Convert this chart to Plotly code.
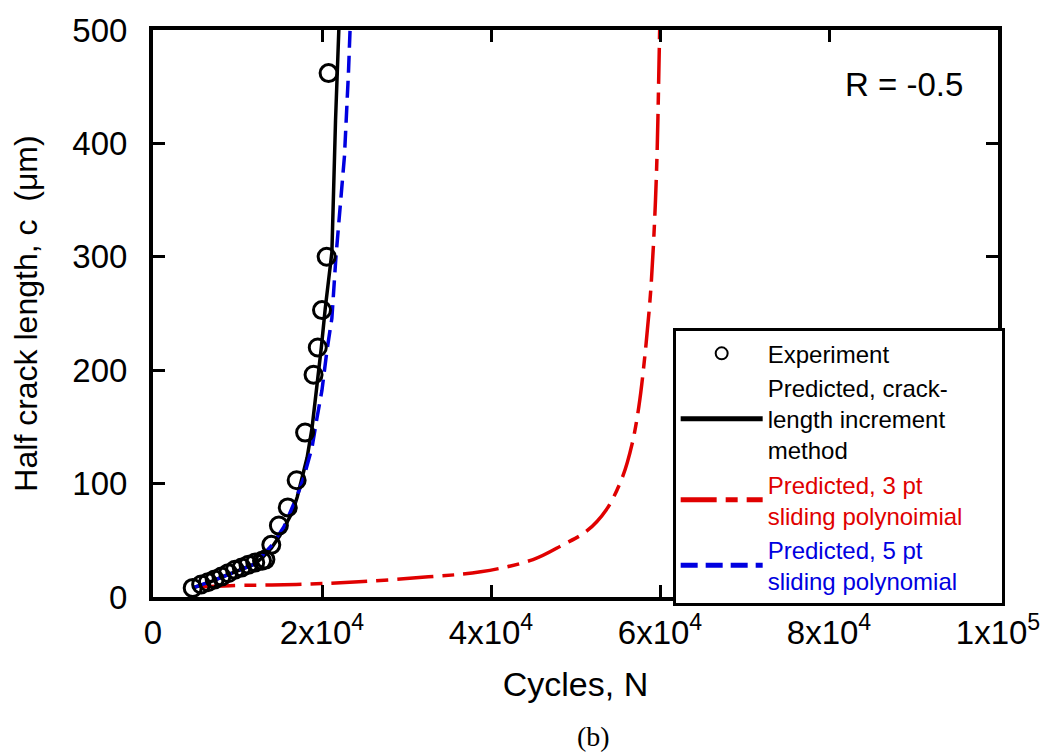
import plotly.graph_objects as go

# Experimental data (cycles N, half crack length c in um)
exp_N = [4700, 5700, 6500, 7300, 8100, 8900, 9700, 10500, 11300, 12100, 12900, 13300,
         14000, 14900, 15950, 17000, 18000, 19000, 19500, 20000, 20550, 20780]
exp_c = [8, 11, 13, 15.5, 18, 21, 24, 26, 28.5, 30.5, 32, 33,
         46, 63, 79, 103, 145, 196, 220, 253, 300, 462]

# Predicted, crack-length increment method (black solid)
blk_N = [4700, 6000, 8000, 10000, 12000, 13000, 14000, 15000, 16000, 16500, 17060, 17460,
         18240, 18820, 19530, 19920, 20390, 21170, 21600, 21990]
blk_c = [8, 11, 17, 23, 29, 35, 43, 54, 67, 75, 88, 100,
         123, 149, 193, 220, 255, 304, 420, 500]

# Predicted, 3 pt sliding polynomial (red dash-dot)
red_N = [5500, 9120, 16950, 24360, 32600, 38780, 44970, 48500, 51300, 53650, 55600,
         56700, 57500, 58200, 58900, 59350, 59650, 59880, 59960]
red_c = [9, 10, 11.1, 13.4, 17.8, 22.2, 33, 46, 58, 77, 106.6,
         135, 168, 212, 270, 330, 390, 470, 500]

# Predicted, 5 pt sliding polynomial (blue dashed)
blu_N = [4700, 8000, 12000, 14100, 15500, 17000, 17850, 18820, 19410, 19990, 20580,
         21170, 21650, 22660, 23130, 23320]
blu_c = [8, 17, 29, 46, 62, 88, 105.5, 132, 158, 182, 217,
         246, 300, 389, 462, 500]

x_tickvals = [0, 20000, 40000, 60000, 80000, 100000]
x_ticktext = ["0", "2x10<sup>4</sup>", "4x10<sup>4</sup>", "6x10<sup>4</sup>",
              "8x10<sup>4</sup>", "1x10<sup>5</sup>"]
y_tickvals = [0, 100, 200, 300, 400, 500]

FONT = "Liberation Sans, Arial, sans-serif"
PAD = "\u00a0" * 5

fig = go.Figure()

fig.add_trace(go.Scatter(
    x=blk_N, y=blk_c, mode="lines", line=dict(color="black", width=3.5),
    name="Predicted, crack-<br>length increment<br>method", legendrank=2))
fig.add_trace(go.Scatter(
    x=red_N, y=red_c, mode="lines", line_shape="spline",
    line=dict(color="#e00000", width=3.5, dash="36px,9px,12px,9px"),
    name="<span style='color:#e00000'>Predicted, 3 pt</span><br>"
         "<span style='color:#e00000'>sliding polynoimial" + PAD + "</span>", legendrank=3))
fig.add_trace(go.Scatter(
    x=blu_N, y=blu_c, mode="lines",
    line=dict(color="#0000e0", width=3.5, dash="17px,8px"),
    name="<span style='color:#0000e0'>Predicted, 5 pt</span><br>"
         "<span style='color:#0000e0'>sliding polynomial</span>", legendrank=4))
fig.add_trace(go.Scatter(
    x=exp_N, y=exp_c, mode="markers",
    marker=dict(symbol="circle-open", size=17, color="black", line=dict(width=3)),
    name="Experiment", legendrank=1))

fig.add_annotation(x=0.889, y=0.904, xref="paper", yref="paper", text="R = -0.5",
                   xanchor="center", yanchor="middle",
                   showarrow=False, font=dict(family=FONT, size=33, color="black"))
fig.add_annotation(x=0.521, y=-0.246, xref="paper", yref="paper", text="(b)",
                   xanchor="center", yanchor="middle",
                   showarrow=False, font=dict(family="Liberation Serif, Times New Roman, serif",
                                              size=28, color="black"))

axis_common = dict(showline=True, linewidth=4, linecolor="black", mirror="ticks",
                   ticks="inside", ticklen=12, tickwidth=3, tickcolor="black",
                   showgrid=False, zeroline=False,
                   tickfont=dict(family=FONT, size=33, color="black"))

fig.update_layout(
    width=1052, height=754,
    margin=dict(l=153, r=47, t=27, b=157),
    paper_bgcolor="white", plot_bgcolor="white",
    font=dict(family=FONT, color="black"),
    xaxis=dict(range=[0, 100000], tickvals=x_tickvals, ticktext=x_ticktext,
               title=dict(text="Cycles, N", font=dict(family=FONT, size=34), standoff=24),
               ticklabelstandoff=3, **axis_common),
    yaxis=dict(range=[0, 500], tickvals=y_tickvals,
               title=dict(text="Half crack length, c  (μm)", font=dict(family=FONT, size=32),
                          standoff=26),
               ticklabelstandoff=15, **axis_common),
    legend=dict(x=0.615, y=0.474, xanchor="left", yanchor="top",
                bgcolor="white", bordercolor="black", borderwidth=3,
                font=dict(family=FONT, size=24, color="black"),
                itemwidth=82, tracegroupgap=0, itemsizing="constant"),
    showlegend=True,
)

fig.write_html("out.html")
